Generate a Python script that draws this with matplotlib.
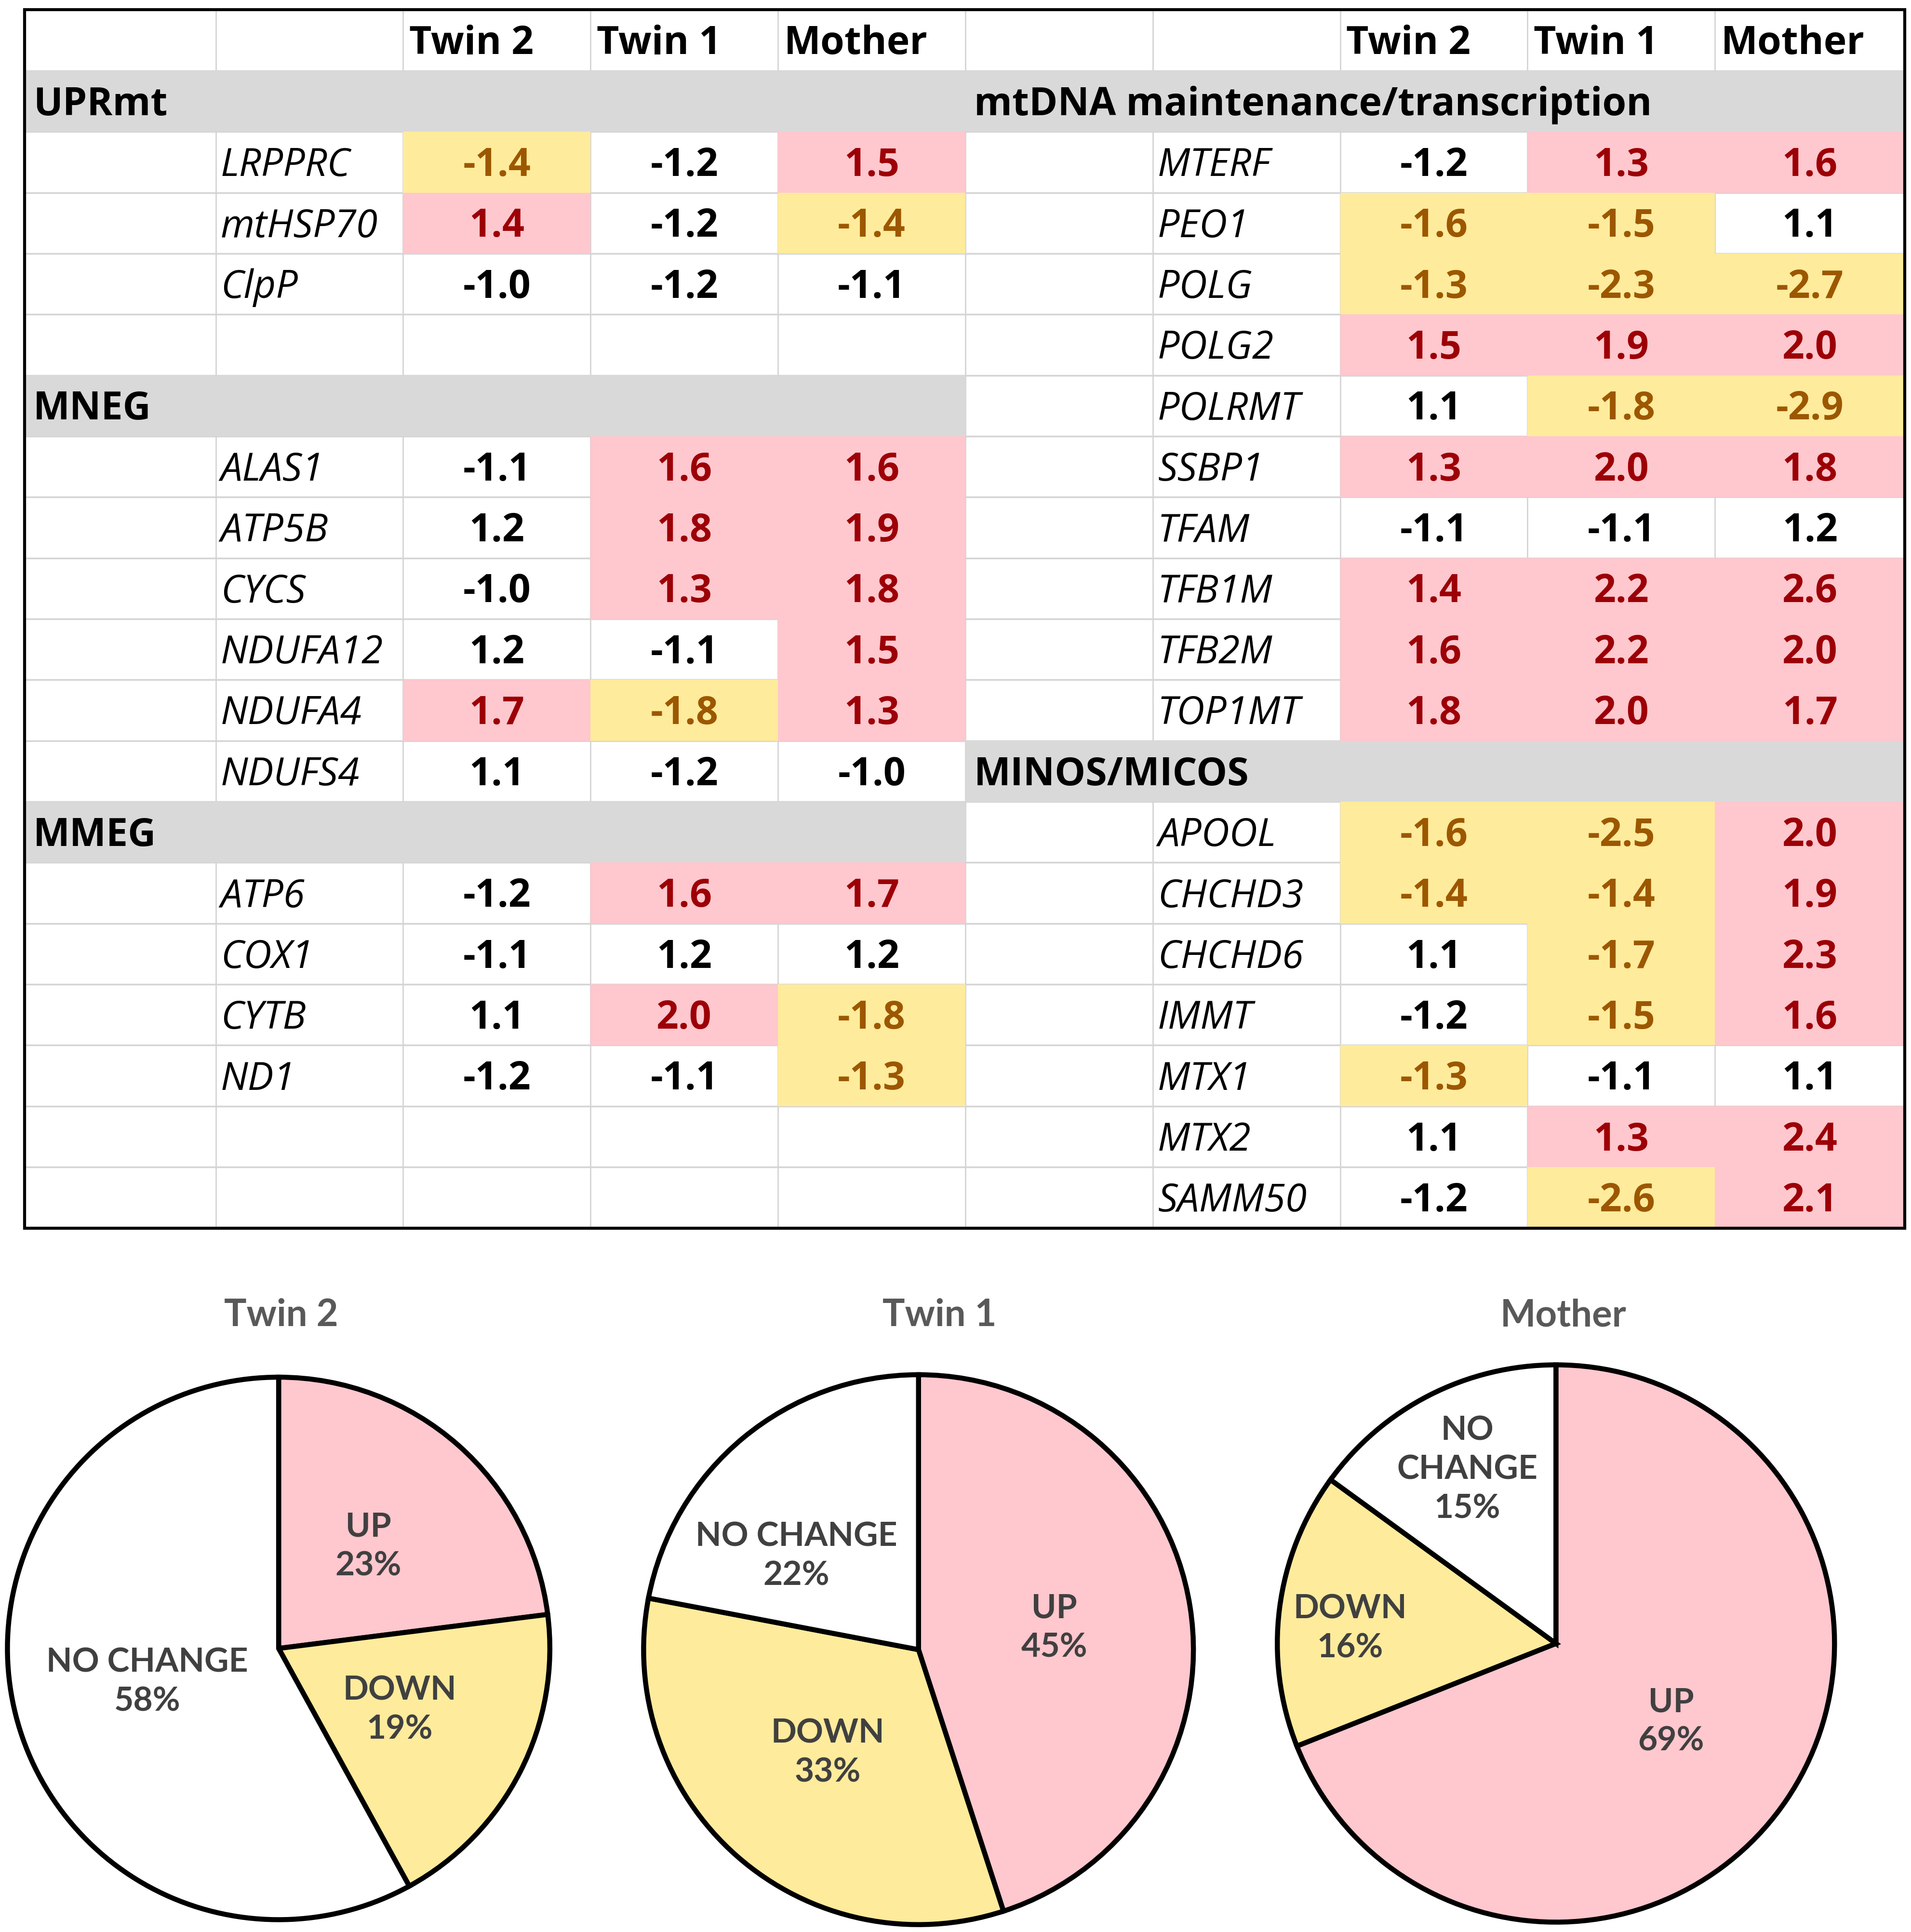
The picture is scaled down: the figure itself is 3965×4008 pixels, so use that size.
import matplotlib.pyplot as plt
import numpy as np

plt.rcParams['font.family'] = ['Open Sans', 'DejaVu Sans']

samples = ['Twin 2', 'Twin 1', 'Mother']

# left half of the table
uprmt_genes = ['LRPPRC', 'mtHSP70', 'ClpP']
uprmt_vals = [[-1.4, -1.2, 1.5], [1.4, -1.2, -1.4], [-1.0, -1.2, -1.1]]
mneg_genes = ['ALAS1', 'ATP5B', 'CYCS', 'NDUFA12', 'NDUFA4', 'NDUFS4']
mneg_vals = [[-1.1, 1.6, 1.6], [1.2, 1.8, 1.9], [-1.0, 1.3, 1.8],
             [1.2, -1.1, 1.5], [1.7, -1.8, 1.3], [1.1, -1.2, -1.0]]
mmeg_genes = ['ATP6', 'COX1', 'CYTB', 'ND1']
mmeg_vals = [[-1.2, 1.6, 1.7], [-1.1, 1.2, 1.2], [1.1, 2.0, -1.8], [-1.2, -1.1, -1.3]]

# right half of the table
mtdna_genes = ['MTERF', 'PEO1', 'POLG', 'POLG2', 'POLRMT', 'SSBP1', 'TFAM',
               'TFB1M', 'TFB2M', 'TOP1MT']
mtdna_vals = [[-1.2, 1.3, 1.6], [-1.6, -1.5, 1.1], [-1.3, -2.3, -2.7],
              [1.5, 1.9, 2.0], [1.1, -1.8, -2.9], [1.3, 2.0, 1.8],
              [-1.1, -1.1, 1.2], [1.4, 2.2, 2.6], [1.6, 2.2, 2.0], [1.8, 2.0, 1.7]]
micos_genes = ['APOOL', 'CHCHD3', 'CHCHD6', 'IMMT', 'MTX1', 'MTX2', 'SAMM50']
micos_vals = [[-1.6, -2.5, 2.0], [-1.4, -1.4, 1.9], [1.1, -1.7, 2.3],
              [-1.2, -1.5, 1.6], [-1.3, -1.1, 1.1], [1.1, 1.3, 2.4], [-1.2, -2.6, 2.1]]

# pie charts
pie_labels = ['UP', 'DOWN', 'NO CHANGE']
twin2_pct = [23, 19, 58]
twin1_pct = [45, 33, 22]
mother_pct = [69, 16, 15]

# build row lists
left_rows = [('head',), ('cat', 'UPRmt')]
left_rows += [('gene', g, v) for g, v in zip(uprmt_genes, uprmt_vals)]
left_rows += [('blank',), ('cat', 'MNEG')]
left_rows += [('gene', g, v) for g, v in zip(mneg_genes, mneg_vals)]
left_rows += [('cat', 'MMEG')]
left_rows += [('gene', g, v) for g, v in zip(mmeg_genes, mmeg_vals)]
left_rows += [('blank',), ('blank',)]

right_rows = [('head',), ('cat', 'mtDNA maintenance/transcription')]
right_rows += [('gene', g, v) for g, v in zip(mtdna_genes, mtdna_vals)]
right_rows += [('cat', 'MINOS/MICOS')]
right_rows += [('gene', g, v) for g, v in zip(micos_genes, micos_vals)]

W, H = 1550, 1567
fig = plt.figure(figsize=(39.65, 40.08), dpi=100)
ax = fig.add_axes([0, 0, 1, 1])
ax.set_xlim(0, W)
ax.set_ylim(H, 0)
ax.axis('off')

col_x = [20, 175, 327, 479, 631, 783, 935, 1087, 1239, 1391, 1545]
top, bot = 8, 996
nrows = len(left_rows)
row_h = (bot - top) / nrows
row_y = [top + i * row_h for i in range(nrows + 1)]

grid_c = '#d4d4d4'
pink, pink_txt = '#ffc7ce', '#9c0006'
yel, yel_txt = '#ffeb9c', '#9c5700'
band = '#d9d9d9'
fs = 58

for x in col_x[1:-1]:
    ax.plot([x, x], [top, bot], color=grid_c, lw=2, zorder=1)
for y in row_y[1:-1]:
    ax.plot([col_x[0], col_x[-1]], [y, y], color=grid_c, lw=2.5, zorder=1)


def draw_side(rows, c0):
    for i, row in enumerate(rows):
        y0, y1 = row_y[i], row_y[i + 1]
        yc = (y0 + y1) / 2 + 3
        if row[0] == 'head':
            for j, s in enumerate(samples):
                ax.text(col_x[c0 + 2 + j] + 5, yc, s, fontsize=fs, fontweight='bold',
                        ha='left', va='center', zorder=4)
        elif row[0] == 'cat':
            ax.add_patch(plt.Rectangle((col_x[c0], y0), col_x[c0 + 5] - col_x[c0], y1 - y0,
                                       facecolor=band, edgecolor='none', zorder=2))
            ax.text(col_x[c0] + 7, yc, row[1], fontsize=fs, fontweight='bold',
                    ha='left', va='center', zorder=4)
        elif row[0] == 'gene':
            ax.text(col_x[c0 + 1] + 4, yc, row[1], fontsize=fs, fontstyle='italic',
                    ha='left', va='center', zorder=4)
            for j, v in enumerate(row[2]):
                xa, xb = col_x[c0 + 2 + j], col_x[c0 + 3 + j]
                tc = 'black'
                if v >= 1.3:
                    fc, tc = pink, pink_txt
                elif v <= -1.3:
                    fc, tc = yel, yel_txt
                else:
                    fc = None
                if fc:
                    ax.add_patch(plt.Rectangle((xa, y0), xb - xa, y1 - y0,
                                               facecolor=fc, edgecolor='none', zorder=2))
                ax.text((xa + xb) / 2, yc, '%.1f' % v, fontsize=fs, fontweight='bold',
                        color=tc, ha='center', va='center', zorder=4)


draw_side(left_rows, 0)
draw_side(right_rows, 5)

ax.add_patch(plt.Rectangle((col_x[0], top), col_x[-1] - col_x[0], bot - top,
                           facecolor='none', edgecolor='black', lw=4.5, zorder=5))

# pies
pie_data = [twin2_pct, twin1_pct, mother_pct]
pie_centers = [(226, 1337), (745, 1338), (1262, 1333)]
pie_r = [220, 223, 226]
title_x = [228, 762, 1268]
label_dist = [[0.5, 0.5, 0.5], [0.5, 0.5, 0.56], [0.5, 0.74, 0.7]]
label_turn = [[0, 0, 0], [0, 0, 13], [0, 3, 0]]
pie_colors = [pink, yel, 'white']

for k, pct in enumerate(pie_data):
    cx, cy = pie_centers[k]
    r = pie_r[k]
    pax = fig.add_axes([(cx - 1.1 * r) / W, 1 - (cy + 1.1 * r) / H, 2.2 * r / W, 2.2 * r / H])
    wedges, _ = pax.pie(pct, colors=pie_colors, startangle=90, counterclock=False,
                        wedgeprops=dict(edgecolor='black', linewidth=7.5))
    pax.set_xlim(-1.1, 1.1)
    pax.set_ylim(-1.1, 1.1)
    pax.set_aspect('equal')
    pax.axis('off')
    for w, lab, p, d, t in zip(wedges, pie_labels, pct, label_dist[k], label_turn[k]):
        ang = np.deg2rad((w.theta1 + w.theta2) / 2 + t)
        if p < 20 and ' ' in lab:
            lab = lab.replace(' ', '\n')
        pax.text(d * np.cos(ang), d * np.sin(ang), '%s\n%d%%' % (lab, p),
                 fontsize=50, fontweight='bold', color='#404040', family=['Lato', 'DejaVu Sans'],
                 ha='center', va='center', linespacing=1.35)
    ax.text(title_x[k], 1067, samples[k], fontsize=56, fontweight='bold',
            color='#595959', family=['Lato', 'DejaVu Sans'], ha='center', va='center')

fig.savefig('out.png', dpi=100, facecolor='white')
